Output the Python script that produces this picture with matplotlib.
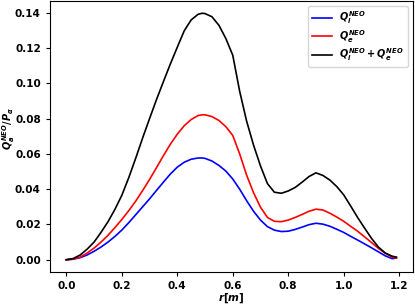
import numpy as np
import matplotlib
matplotlib.use("Agg")
from matplotlib import pyplot as plt

plt.rcParams["font.weight"] = "bold"
plt.rcParams["axes.labelweight"] = "bold"
plt.rcParams["mathtext.fontset"] = "custom"
plt.rcParams["mathtext.it"] = "DejaVu Sans:italic:bold"
plt.rcParams["mathtext.rm"] = "DejaVu Sans:bold"
plt.rcParams["mathtext.bf"] = "DejaVu Sans:bold"

# radius grid and fluxes
r = [0.0, 0.025, 0.05, 0.075, 0.10, 0.125, 0.15, 0.175, 0.20, 0.225, 0.25,
     0.275, 0.30, 0.325, 0.35, 0.375, 0.40, 0.425, 0.45, 0.475, 0.49, 0.50,
     0.525, 0.55, 0.575, 0.60, 0.625, 0.65, 0.675, 0.70, 0.725, 0.75, 0.775,
     0.80, 0.825, 0.85, 0.875, 0.90, 0.925, 0.95, 0.975, 1.00, 1.025, 1.05,
     1.075, 1.10, 1.125, 1.15, 1.175, 1.19]

q_i = [0.0, 0.0003, 0.0012, 0.0027, 0.0048, 0.0072, 0.0100, 0.0132, 0.0168,
       0.0210, 0.0255, 0.0300, 0.0345, 0.0393, 0.0440, 0.0486, 0.0525,
       0.0553, 0.0570, 0.0577, 0.0577, 0.0575, 0.0560, 0.0535, 0.0503,
       0.0458, 0.0400, 0.0335, 0.0275, 0.0225, 0.0188, 0.0168, 0.0160,
       0.0162, 0.0172, 0.0185, 0.0199, 0.0207, 0.0202, 0.0190, 0.0173,
       0.0155, 0.0133, 0.0112, 0.0090, 0.0068, 0.0045, 0.0022, 0.0006,
       0.0010]

q_e = [0.0, 0.0004, 0.0015, 0.0038, 0.0066, 0.0100, 0.0138, 0.0182, 0.0228,
       0.0278, 0.0332, 0.0392, 0.0455, 0.0522, 0.0590, 0.0655, 0.0712,
       0.0760, 0.0795, 0.0818, 0.0822, 0.0822, 0.0812, 0.0790, 0.0755,
       0.0705, 0.0600, 0.0480, 0.0380, 0.0298, 0.0240, 0.0218, 0.0216,
       0.0225, 0.0240, 0.0257, 0.0275, 0.0287, 0.0282, 0.0264, 0.0242,
       0.0218, 0.0190, 0.0162, 0.0130, 0.0098, 0.0065, 0.0036, 0.0015,
       0.0009]

q_tot = [0.0, 0.0007, 0.0027, 0.0060, 0.0100, 0.0155, 0.0215, 0.0285, 0.0365,
         0.0465, 0.0575, 0.0690, 0.0800, 0.0908, 0.1010, 0.1110, 0.1205,
         0.1298, 0.1360, 0.1392, 0.1398, 0.1396, 0.1378, 0.1330, 0.1255,
         0.1160, 0.0955, 0.0786, 0.0650, 0.0532, 0.0432, 0.0383, 0.0377,
         0.0390, 0.0410, 0.0440, 0.0472, 0.0493, 0.0478, 0.0452, 0.0415,
         0.0368, 0.0305, 0.0240, 0.0180, 0.0122, 0.0072, 0.0038, 0.0020,
         0.0015]

fig, ax = plt.subplots(figsize=(4.15, 3.04), dpi=100)
fig.subplots_adjust(left=0.12, right=0.995, top=0.997, bottom=0.105)

ax.plot(r, q_i, color="blue", lw=1.2, label=r"$Q_i^{NEO}$")
ax.plot(r, q_e, color="red", lw=1.2, label=r"$Q_e^{NEO}$")
ax.plot(r, q_tot, color="black", lw=1.2, label=r"$Q_i^{NEO}+Q_e^{NEO}$")

ax.set_xticks([0.0, 0.2, 0.4, 0.6, 0.8, 1.0, 1.2])
ax.set_yticks(np.arange(0, 0.141, 0.02))
ax.tick_params(labelsize=7.5, length=3)
for t in ax.get_xticklabels() + ax.get_yticklabels():
    t.set_fontweight("bold")

ax.set_xlabel(r"$r[m]$", fontsize=7.5)
ax.set_ylabel(r"$Q_a^{NEO}/P_\alpha$", fontsize=7)
ax.xaxis.set_label_coords(0.499, -0.072)
ax.yaxis.set_label_coords(-0.09, 0.53)

ax.legend(loc="upper right", fontsize=7, labelspacing=0.15, borderpad=0.4)

fig.savefig("out.png", dpi=100)
